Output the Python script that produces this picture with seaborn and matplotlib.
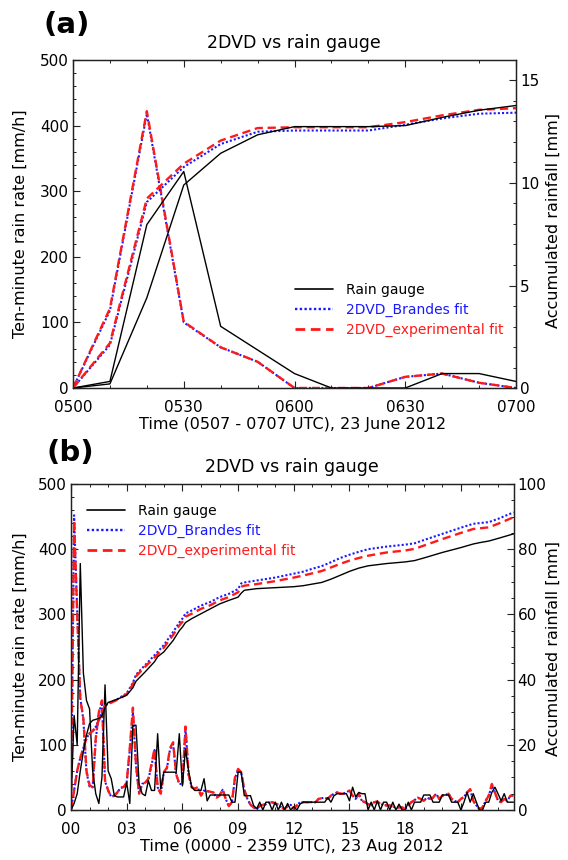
import numpy as np
import matplotlib
matplotlib.use("Agg")
import matplotlib.pyplot as plt
import seaborn as sns
from matplotlib.lines import Line2D
from matplotlib.ticker import MultipleLocator, FixedLocator

# ---------------- data: panel (a), 10-min samples from 0500 to 0700 ----------------
a_minutes = [0, 10, 20, 30, 40, 50, 60, 70, 80, 90, 100, 110, 120]
a_tick_labels = ["0500", "0530", "0600", "0630", "0700"]
a_gauge_rate = [0, 10, 249, 330, 94, 58, 22, 0, 0, 0, 22, 22, 10]
a_brandes_rate = [0, 118, 418, 100, 62, 40, 0, 0, 0, 17, 22, 8, 0]
a_exp_rate = [0, 121, 422, 101, 62, 40, 0, 0, 0, 17, 22, 8, 0]
a_gauge_acc = [0, 0.2, 4.4, 9.9, 11.45, 12.35, 12.75, 12.75, 12.75, 12.8, 13.2, 13.55, 13.78]
a_brandes_acc = [0, 2.1, 9.07, 10.78, 11.9, 12.5, 12.56, 12.56, 12.56, 12.84, 13.15, 13.38, 13.43]
a_exp_acc = [0, 2.19, 9.24, 10.94, 12.07, 12.68, 12.72, 12.72, 12.72, 12.97, 13.3, 13.57, 13.65]

# ---------------- data: panel (b), 10-min rates 0000-2350 ----------------
b_tick_labels = ["00", "03", "06", "09", "12", "15", "18", "21"]
b_gauge_rate = [
    10, 145, 100, 378, 210, 168,
    155, 60, 25, 10, 50, 192,
    60, 48, 22, 20, 20, 20,
    42, 10, 130, 130, 40, 25,
    22, 45, 30, 30, 117, 32,
    58, 58, 58, 58, 58, 117,
    37, 94, 60, 35, 30, 30,
    30, 48, 14, 23, 23, 23,
    23, 23, 23, 23, 12, 12,
    58, 58, 22, 22, 22, 7,
    2, 12, 0, 12, 12, 0,
    12, 0, 12, 0, 10, 0,
    5, 0, 9, 12, 12, 12,
    12, 12, 12, 12, 12, 19,
    12, 22, 25, 25, 25, 25,
    14, 35, 20, 27, 25, 25,
    0, 12, 0, 14, 0, 12,
    12, 0, 12, 0, 9, 0,
    0, 12, 0, 12, 12, 12,
    23, 23, 23, 12, 12, 12,
    23, 23, 23, 12, 12, 12,
    0, 12, 27, 12, 25, 12,
    0, 0, 12, 12, 27, 35,
    25, 14, 25, 12, 12, 12,
]
b_exp_rate = [
    10, 445, 300, 170, 140, 60,
    38, 35, 110, 150, 168, 45,
    30, 20, 22, 27, 35, 35,
    42, 95, 157, 70, 25, 40,
    42, 48, 70, 94, 35, 25,
    58, 65, 95, 104, 55, 40,
    40, 128, 55, 35, 33, 35,
    22, 30, 29, 28, 27, 19,
    22, 32, 17, 6, 12, 50,
    63, 58, 32, 17, 8, 4,
    1.5, 6, 8, 9, 11, 12,
    10, 8, 4, 1.5, 6, 8,
    2, 7, 12, 12, 12, 12,
    12, 12, 17, 18, 19, 17,
    22, 25, 27, 25, 25, 27,
    30, 22, 17, 25, 14, 12,
    9, 7, 12, 13, 9, 8,
    7, 7, 5, 4, 4, 4,
    1.5, 7, 12, 15, 19, 17,
    14, 19, 17, 19, 25, 17,
    22, 23, 25, 17, 14, 12,
    17, 20, 27, 32, 14, 7,
    1.5, 4, 14, 22, 40, 27,
    14, 12, 17, 14, 22, 22,
]
b_brandes_rate = [
    10, 452, 305, 172, 138, 58,
    36, 35, 108, 148, 165, 44,
    30, 20, 22, 27, 34, 35,
    42, 92, 150, 68, 25, 40,
    42, 47, 68, 92, 35, 25,
    57, 64, 93, 101, 54, 40,
    40, 125, 54, 35, 33, 34,
    22, 30, 29, 28, 27, 19,
    22, 31, 17, 6, 12, 49,
    62, 57, 31, 17, 8, 4,
    1.5, 6, 8, 9, 11, 12,
    10, 8, 4, 1.5, 6, 8,
    2, 7, 12, 12, 12, 12,
    12, 12, 17, 18, 19, 17,
    22, 25, 27, 25, 25, 27,
    30, 22, 17, 25, 14, 12,
    9, 7, 12, 13, 9, 8,
    7, 7, 5, 4, 4, 4,
    1.5, 7, 12, 15, 19, 17,
    14, 19, 17, 19, 25, 17,
    22, 23, 25, 17, 14, 12,
    17, 20, 27, 31, 14, 7,
    1.5, 4, 14, 22, 37, 27,
    14, 12, 17, 14, 22, 22,
]
# accumulated rainfall (mm) at selected times (minutes after 0000 UTC)
b_acc_minutes = [0, 10, 20, 30, 40, 50, 60, 70, 80, 90, 100, 110, 120, 150, 180, 200,
                 210, 240, 270, 280, 300, 330, 350, 360, 370, 390, 420, 450, 480, 510,
                 540, 550, 560, 600, 660, 720, 750, 780, 810, 840, 870, 900, 930, 960,
                 1020, 1080, 1110, 1140, 1200, 1260, 1300, 1320, 1350, 1380, 1430]
b_gauge_acc = [0, 2, 5, 12, 18, 23, 26.5, 27.5, 27.8, 28.1, 28.8, 31.5, 33, 34, 35.2, 37.5,
               39.5, 42.4, 45.5, 47, 48.5, 52, 55, 56.1, 57.5, 58.7, 60.2, 61.7, 63.2, 64.3,
               65.3, 66.5, 67.4, 67.9, 68.2, 68.5, 68.8, 69.3, 69.8, 70.8, 72, 73.2, 74.2, 74.9,
               75.6, 76.1, 76.5, 77.3, 79, 80.5, 81.6, 82, 82.5, 83.3, 84.7]
b_brandes_acc = [0, 6, 12, 16, 19, 22, 23.5, 24.2, 25.5, 27.5, 30, 32, 32.6, 34, 35.8, 39,
                 41.5, 44.5, 47.5, 48.5, 50.6, 54.6, 57.5, 58.7, 60.3, 61.2, 62.7, 63.8, 65.3, 66.3,
                 67.8, 69.5, 69.8, 70.4, 71.3, 72.5, 73.1, 74, 74.8, 76, 77.3, 78.3, 79.2, 80,
                 80.8, 81.4, 81.8, 82.8, 84.7, 86.6, 87.8, 88, 88.3, 89.3, 91.3]
b_exp_acc = [0, 6, 12, 16, 19, 22, 23.5, 24.2, 25.5, 27.5, 30, 32, 32.5, 33.8, 35.5, 38.6,
             41, 44, 46.8, 47.8, 49.8, 53.7, 56.6, 57.7, 59.3, 60.2, 61.7, 62.8, 64.3, 65.3,
             66.8, 68.5, 68.8, 69.3, 70.2, 71.3, 71.9, 72.6, 73.3, 74.4, 75.5, 76.5, 77.3, 78,
             79, 79.6, 80.1, 81.1, 83.1, 85, 86.2, 86.4, 86.7, 87.8, 89.8]
b_minutes = np.arange(len(b_gauge_rate)) * 10

series_labels = ["Rain gauge", "2DVD_Brandes fit", "2DVD_experimental fit"]
series_colors = ["black", "#1a1aff", "#ff1a1a"]

# ---------------- style ----------------
sns.set_theme(style="ticks")
plt.rcParams['font.family'] = ['DejaVu Sans']
plt.rcParams['text.color'] = 'black'
plt.rcParams['axes.labelcolor'] = 'black'
plt.rcParams['xtick.color'] = 'black'
plt.rcParams['ytick.color'] = 'black'
plt.rcParams['axes.linewidth'] = 0.9
plt.rcParams['axes.edgecolor'] = '#222222'

W, H = 568, 860
fig = plt.figure(figsize=(W / 100, H / 100), dpi=100)
fig.patch.set_facecolor("white")

def fx(px):
    return px / W

def fy(py):
    return 1 - py / H

BLUE_LS = (0, (1.0, 1.0))
RED_LS = (0, (3.5, 2.0))

def draw_panel(ax, x, g_rate, b_rate, e_rate, xa, g_acc, b_acc, e_acc, acc_max):
    ax2 = ax.twinx()
    # rates
    sns.lineplot(x=x, y=b_rate, ax=ax, color=series_colors[1], linestyle=BLUE_LS,
                 linewidth=1.5, errorbar=None, sort=False)
    sns.lineplot(x=x, y=e_rate, ax=ax, color=series_colors[2], linestyle=RED_LS,
                 linewidth=1.7, errorbar=None, sort=False)
    sns.lineplot(x=x, y=g_rate, ax=ax, color=series_colors[0], linestyle='-',
                 linewidth=1.0, errorbar=None, sort=False)
    # accumulations
    sns.lineplot(x=xa, y=b_acc, ax=ax2, color=series_colors[1], linestyle=BLUE_LS,
                 linewidth=1.5, errorbar=None, sort=False)
    sns.lineplot(x=xa, y=e_acc, ax=ax2, color=series_colors[2], linestyle=RED_LS,
                 linewidth=1.7, errorbar=None, sort=False)
    sns.lineplot(x=xa, y=g_acc, ax=ax2, color=series_colors[0], linestyle='-',
                 linewidth=1.0, errorbar=None, sort=False)
    ax.set_ylim(0, 500)
    ax2.set_ylim(0, acc_max)
    ax.set_xlabel("")
    ax.set_ylabel("")
    ax2.set_ylabel("")
    ax.yaxis.set_major_locator(MultipleLocator(100))
    ax.yaxis.set_minor_locator(MultipleLocator(20))
    ax.tick_params(axis='both', which='both', direction='in', top=True, right=False,
                   labelsize=11, colors='#222222', labelcolor='black')
    ax.tick_params(axis='both', which='major', length=4.7, width=0.8)
    ax.tick_params(axis='both', which='minor', length=2.4, width=0.7)
    ax.tick_params(axis='x', which='major', pad=8.5)
    ax.tick_params(axis='y', which='major', pad=3)
    ax2.tick_params(axis='y', which='both', direction='in', right=True, left=False,
                    labelsize=11, colors='#222222', labelcolor='black')
    ax2.tick_params(axis='y', which='major', length=4.7, width=0.8, pad=3)
    ax2.tick_params(axis='y', which='minor', length=2.4, width=0.7)
    for sp in list(ax.spines.values()) + list(ax2.spines.values()):
        sp.set_visible(True)
        sp.set_color('#222222')
        sp.set_linewidth(0.9)
    if ax.get_legend():
        ax.get_legend().remove()
    return ax2

# ---------------- panel (a) ----------------
axA = fig.add_axes([fx(73), fy(388), fx(516 - 73), (388 - 60) / H])
axA2 = draw_panel(axA, a_minutes, a_gauge_rate, a_brandes_rate, a_exp_rate,
                  a_minutes, a_gauge_acc, a_brandes_acc, a_exp_acc, 16)
axA.set_xlim(0, 120)
axA.xaxis.set_major_locator(FixedLocator([0, 30, 60, 90, 120]))
axA.set_xticklabels(a_tick_labels)
axA.xaxis.set_minor_locator(MultipleLocator(10))
axA2.yaxis.set_major_locator(FixedLocator([0, 5, 10, 15]))
axA2.yaxis.set_minor_locator(MultipleLocator(1))

# ---------------- panel (b) ----------------
axB = fig.add_axes([fx(71), fy(810), fx(513.5 - 71), (810 - 484) / H])
axB2 = draw_panel(axB, b_minutes, b_gauge_rate, b_brandes_rate, b_exp_rate,
                  b_acc_minutes, b_gauge_acc, b_brandes_acc, b_exp_acc, 100)
axB.set_xlim(0, 1430)
axB.xaxis.set_major_locator(FixedLocator([0, 180, 360, 540, 720, 900, 1080, 1260]))
axB.set_xticklabels(b_tick_labels)
axB.xaxis.set_minor_locator(MultipleLocator(60))
axB2.yaxis.set_major_locator(MultipleLocator(20))
axB2.yaxis.set_minor_locator(MultipleLocator(5))

# ---------------- texts ----------------
title = "2DVD vs rain gauge"
ylab_l = "Ten-minute rain rate [mm/h]"
ylab_r = "Accumulated rainfall [mm]"
fig.text(fx(67), fy(25), "(a)", fontsize=21, fontweight='bold', ha='center', va='center',
         color='black')
fig.text(fx(70), fy(453), "(b)", fontsize=21, fontweight='bold', ha='center', va='center',
         color='black')
fig.text(fx(294), fy(43), title, fontsize=12.5, ha='center', va='center', color='black')
fig.text(fx(292), fy(467), title, fontsize=12.5, ha='center', va='center', color='black')
fig.text(fx(293), fy(425), "Time (0507 - 0707 UTC), 23 June 2012", fontsize=11.5,
         ha='center', va='center', color='black')
fig.text(fx(292), fy(847), "Time (0000 - 2359 UTC), 23 Aug 2012", fontsize=11.5,
         ha='center', va='center', color='black')
for cy in (224, 647):
    fig.text(fx(20), fy(cy), ylab_l, fontsize=11.5, rotation=90, ha='center', va='center',
             color='black')
for cy in (220, 648):
    fig.text(fx(553), fy(cy), ylab_r, fontsize=11.5, rotation=90, ha='center', va='center',
             color='black')

# ---------------- legends ----------------
def make_handles():
    return [Line2D([], [], color=series_colors[0], lw=1.2, linestyle='-'),
            Line2D([], [], color=series_colors[1], lw=1.7, linestyle=BLUE_LS),
            Line2D([], [], color=series_colors[2], lw=2.0, linestyle=RED_LS)]

legA = axA2.legend(make_handles(), series_labels, loc='upper left',
                   bbox_to_anchor=(fx(295), fy(283)), bbox_transform=fig.transFigure,
                   frameon=False, fontsize=10, handlelength=2.7, handletextpad=1.0,
                   labelspacing=0.42, borderpad=0, borderaxespad=0,
                   labelcolor=series_colors)
legB = axB2.legend(make_handles(), series_labels, loc='upper left',
                   bbox_to_anchor=(fx(87), fy(504)), bbox_transform=fig.transFigure,
                   frameon=False, fontsize=10, handlelength=2.7, handletextpad=1.0,
                   labelspacing=0.42, borderpad=0, borderaxespad=0,
                   labelcolor=series_colors)

fig.savefig("out.png", dpi=100, facecolor="white")
